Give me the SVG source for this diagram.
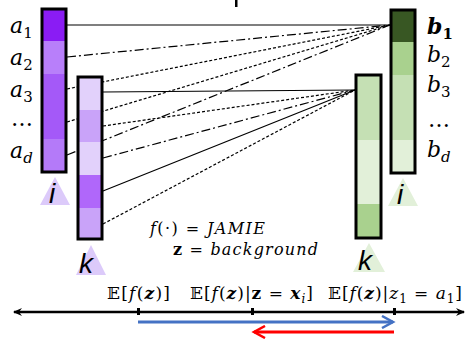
<svg xmlns="http://www.w3.org/2000/svg" width="472" height="339" viewBox="0 0 472 339">
<defs>
<style>
.bar{stroke:#000;stroke-width:3;fill:none}
.ln{stroke:#000;stroke-width:1.2;fill:none}
.dash{stroke-dasharray:3 2}
.dd{stroke-dasharray:9 3 2 3}
.m{font-family:"DejaVu Serif","Liberation Serif",serif;font-style:italic;font-size:22px;fill:#000}
.sub{font-size:15px;font-style:normal}
.lbl{font-family:"Liberation Sans","DejaVu Sans",sans-serif;font-style:italic;font-size:28px;fill:#000}
.ax{font-family:"DejaVu Serif","Liberation Serif","DejaVu Sans",serif;font-size:16px;fill:#000}
.ax2{font-family:"DejaVu Serif","Liberation Serif","DejaVu Sans",serif;font-size:17px;fill:#000}
</style>
<marker id="ab" markerWidth="10" markerHeight="10" refX="8" refY="5" orient="auto-start-reverse" markerUnits="userSpaceOnUse"><path d="M0,1 L9,5 L0,9 L3,5 Z" fill="#000"/></marker>
<marker id="blue" markerWidth="16" markerHeight="14" refX="13" refY="7" orient="auto" markerUnits="userSpaceOnUse"><path d="M2,1 L13,7 L2,13" fill="none" stroke="#4472c4" stroke-width="2.5"/></marker>
<marker id="red" markerWidth="16" markerHeight="14" refX="13" refY="7" orient="auto" markerUnits="userSpaceOnUse"><path d="M2,1 L13,7 L2,13" fill="none" stroke="#ff0000" stroke-width="2.5"/></marker>
</defs>
<rect width="472" height="339" fill="#fff"/>
<rect x="235" y="0" width="2.5" height="7" fill="#000"/>

<g id="connectors">
<line class="ln" x1="67" y1="25" x2="390" y2="25"/>
<line class="ln dd" x1="67" y1="57" x2="390" y2="25"/>
<line class="ln dash" x1="67" y1="89" x2="390" y2="25"/>
<line class="ln dash" x1="67" y1="122" x2="390" y2="25"/>
<line class="ln dd" x1="67" y1="155" x2="390" y2="25"/>
<line class="ln" x1="103" y1="92" x2="355" y2="90"/>
<line class="ln dash" x1="103" y1="126" x2="355" y2="90"/>
<line class="ln dd" x1="103" y1="158" x2="355" y2="90"/>
<line class="ln" x1="103" y1="191" x2="355" y2="90"/>
<line class="ln dash" x1="103" y1="224" x2="355" y2="90"/>
</g>

<g id="left-i">
<rect x="42" y="9" width="24" height="32" fill="#8a1cf4"/>
<rect x="42" y="41" width="24" height="33" fill="#b87ffa"/>
<rect x="42" y="74" width="24" height="65" fill="#a459f8"/>
<rect x="42" y="139" width="24" height="33" fill="#b47af9"/>
<rect class="bar" x="42" y="9" width="24" height="163"/>
<polygon points="55,177 40,205 70,205" fill="#dccafa"/>
<text class="lbl" x="49" y="203">i</text>
<text class="m" x="10" y="33">a<tspan class="sub" dy="5">1</tspan></text>
<text class="m" x="10" y="65">a<tspan class="sub" dy="5">2</tspan></text>
<text class="m" x="10" y="97">a<tspan class="sub" dy="5">3</tspan></text>
<text class="m" x="11" y="126" style="font-style:normal">…</text>
<text class="m" x="10" y="158">a<tspan class="sub" dy="5" style="font-style:italic">d</tspan></text>
</g>

<g id="left-k">
<rect x="78" y="77" width="24" height="33" fill="#e2d1fb"/>
<rect x="78" y="110" width="24" height="32" fill="#c9a3f9"/>
<rect x="78" y="142" width="24" height="33" fill="#e2d1fb"/>
<rect x="78" y="175" width="24" height="33" fill="#b067fa"/>
<rect x="78" y="208" width="24" height="31" fill="#c9a3f9"/>
<rect class="bar" x="78" y="77" width="24" height="162"/>
<polygon points="91,245 76,275 106,275" fill="#dccafa"/>
<text class="lbl" x="79" y="273">k</text>
</g>

<g id="right-i">
<rect x="391" y="10" width="24" height="32" fill="#385723"/>
<rect x="391" y="42" width="24" height="33" fill="#a9d18e"/>
<rect x="391" y="75" width="24" height="65" fill="#c5e0b4"/>
<rect x="391" y="140" width="24" height="33" fill="#e2f0d9"/>
<rect class="bar" x="391" y="10" width="24" height="163"/>
<polygon points="403,178 388,206 418,206" fill="#e2f0d9"/>
<text class="lbl" x="397" y="204">i</text>
<text class="m" x="427" y="34" style="font-weight:bold">b<tspan class="sub" dy="5" style="font-weight:bold">1</tspan></text>
<text class="m" x="427" y="62">b<tspan class="sub" dy="5">2</tspan></text>
<text class="m" x="427" y="92">b<tspan class="sub" dy="5">3</tspan></text>
<text class="m" x="428" y="127" style="font-style:normal">…</text>
<text class="m" x="427" y="157">b<tspan class="sub" dy="5" style="font-style:italic">d</tspan></text>
</g>

<g id="right-k">
<rect x="356" y="75" width="25" height="65" fill="#c5e0b4"/>
<rect x="356" y="140" width="25" height="64" fill="#e2f0d9"/>
<rect x="356" y="204" width="25" height="34" fill="#a9d18e"/>
<rect class="bar" x="356" y="75" width="25" height="163"/>
<polygon points="369,243 353,272 385,272" fill="#e2f0d9"/>
<text class="lbl" x="358" y="270">k</text>
</g>

<g id="legend">
<text class="ax" x="150" y="234" textLength="115" lengthAdjust="spacing"><tspan font-style="italic">f</tspan>(·) = <tspan font-style="italic">JAMIE</tspan></text>
<text class="ax" x="173" y="255" textLength="145" lengthAdjust="spacing"><tspan font-weight="bold">z</tspan> = <tspan font-style="italic">background</tspan></text>
</g>

<g id="axis">
<line x1="14" y1="312" x2="464" y2="312" stroke="#000" stroke-width="2.5" marker-start="url(#ab)" marker-end="url(#ab)"/>
<rect x="137" y="308" width="3" height="7" fill="#000"/>
<rect x="251" y="308" width="3" height="7" fill="#000"/>
<rect x="393" y="308" width="3" height="7" fill="#000"/>
<text class="ax2" x="107" y="299" textLength="63" lengthAdjust="spacing">𝔼[<tspan font-style="italic">f</tspan>(<tspan font-weight="bold" font-style="italic">z</tspan>)]</text>
<text class="ax2" x="190" y="299" textLength="123" lengthAdjust="spacing">𝔼[<tspan font-style="italic">f</tspan>(<tspan font-weight="bold" font-style="italic">z</tspan>)|<tspan font-weight="bold">z</tspan> = <tspan font-weight="bold" font-style="italic">x</tspan><tspan font-style="italic" font-size="12" dy="4">i</tspan><tspan dy="-4">]</tspan></text>
<text class="ax2" x="328" y="299" textLength="134" lengthAdjust="spacing">𝔼[<tspan font-style="italic">f</tspan>(<tspan font-weight="bold" font-style="italic">z</tspan>)|<tspan font-style="italic">z</tspan><tspan font-size="12" dy="4">1</tspan><tspan dy="-4"> = </tspan><tspan font-style="italic">a</tspan><tspan font-size="12" dy="4">1</tspan><tspan dy="-4">]</tspan></text>
<line x1="138" y1="322" x2="393" y2="322" stroke="#4472c4" stroke-width="3" marker-end="url(#blue)"/>
<line x1="394" y1="332" x2="254" y2="332" stroke="#ff0000" stroke-width="3" marker-end="url(#red)"/>
</g>
</svg>
